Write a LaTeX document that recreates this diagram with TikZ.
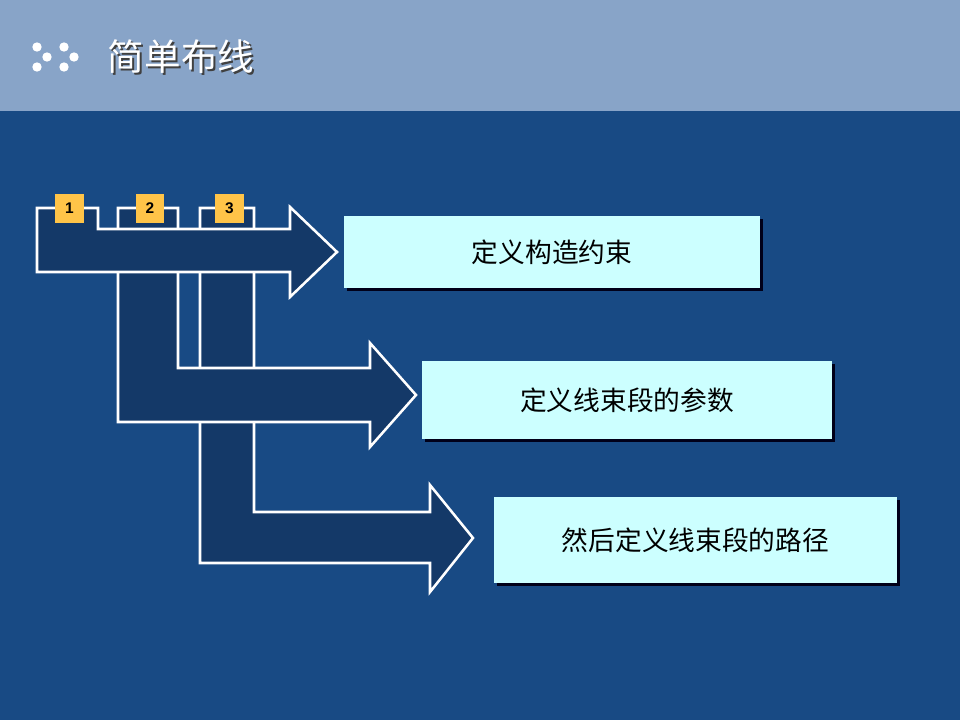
\documentclass[tikz,border=0pt]{standalone}
\usepackage{fontspec}
\setsansfont{Liberation Sans}
\newfontfamily\cjk{Noto Sans CJK SC}
\definecolor{HeadBlue}{RGB}{136,164,200}
\definecolor{SlideBlue}{RGB}{24,74,132}
\definecolor{ArrowNavy}{RGB}{20,57,104}
\definecolor{BoxCyan}{RGB}{204,255,255}
\definecolor{TagYellow}{RGB}{255,196,72}
\usetikzlibrary{positioning,shadows}

\begin{document}
\begin{tikzpicture}[
      x=0.025cm, y=-0.025cm,
      every node/.style={align=center},
      flowarrow/.style={draw=white, fill=ArrowNavy, line width=1.8pt, line join=miter},
      taskbox/.style={fill=BoxCyan, inner sep=0pt, font=\cjk\fontsize{19}{22}\selectfont,
        drop shadow={shadow xshift=0.08cm, shadow yshift=-0.08cm, fill=black!90!blue, opacity=1}},
      numtag/.style={fill=TagYellow, minimum size=0.72cm, inner sep=0pt, font=\sffamily\bfseries\fontsize{11}{12}\selectfont},
      headtext/.style={font=\cjk\fontsize{26}{30}\selectfont, inner sep=0pt}
  ]
    \useasboundingbox (0,0) rectangle (960,720);
    \fill[SlideBlue] (0,0) rectangle (960,720);
    \fill[HeadBlue] (0,0) rectangle (960,111);
    \foreach \dx/\dy in {37/47, 64/47, 47/57, 74/57, 37/67, 64/67}
      \fill[white] (\dx,\dy) circle (4.7);
    \node[headtext, text=black!75] (titleshadow) at (183,59) {简单布线};
    \node[headtext, text=white] (title) at (181,57) {简单布线};

    \draw[flowarrow] (200,208) -- (254,208) -- (254,512) -- (430,512) -- (430,485)
      -- (473,538) -- (430,592) -- (430,563) -- (200,563) -- cycle;
    \draw[flowarrow] (118,208) -- (178,208) -- (178,368) -- (370,368) -- (370,343)
      -- (416,395) -- (370,447) -- (370,422) -- (118,422) -- cycle;
    \draw[flowarrow] (37,208) -- (98,208) -- (98,229) -- (290,229) -- (290,207)
      -- (337,252) -- (290,297) -- (290,272) -- (37,272) -- cycle;

    \node[numtag] (tag1) at (69.5,208.5) {1};
    \node[numtag] (tag2) at (150,208.5) {2};
    \node[numtag] (tag3) at (229.5,208.5) {3};

    \node[taskbox, minimum width=10.4cm, minimum height=1.8cm] (constraints) at (552,252) {定义构造约束};
    \node[taskbox, minimum width=10.25cm, minimum height=1.95cm] (params) at (627,400) {定义线束段的参数};
    \node[taskbox, minimum width=10.075cm, minimum height=2.15cm] (route) at (695.5,540) {然后定义线束段的路径};
  \end{tikzpicture}
\end{document}
